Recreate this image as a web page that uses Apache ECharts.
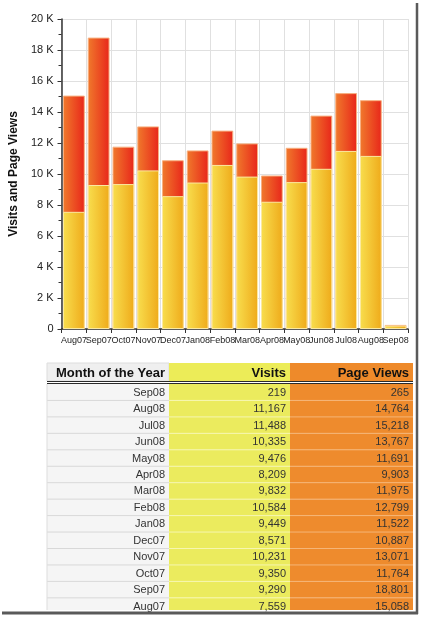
<!DOCTYPE html>
<html>
<head>
<meta charset="utf-8">
<title>Visits and Page Views</title>
<script src="https://cdn.jsdelivr.net/npm/echarts@6/dist/echarts.min.js"></script>
<style>
  html, body { margin: 0; padding: 0; background: #fff; }
  #chart { width: 421px; height: 618px; }
</style>
</head>
<body>
<div id="chart"></div>
<script>
// months, oldest first (chart order)
var months = ['Aug07', 'Sep07', 'Oct07', 'Nov07', 'Dec07', 'Jan08', 'Feb08',
  'Mar08', 'Apr08', 'May08', 'Jun08', 'Jul08', 'Aug08', 'Sep08'];
var visits = [7559, 9290, 9350, 10231, 8571, 9449, 10584, 9832, 8209, 9476, 10335, 11488, 11167, 219];
var pageViews = [15058, 18801, 11764, 13071, 10887, 11522, 12799, 11975, 9903, 11691, 13767, 15218, 14764, 265];
var tableHeaders = ['Month of the Year', 'Visits', 'Page Views'];

var chart = echarts.init(document.getElementById('chart'));

function fmt(n) {
  return n.toLocaleString('en-US');
}

// table below the chart, newest month first
function buildTable() {
  var els = [];
  var cols = [
    { x: 47, w: 122, head: '#efefef', body: '#f5f5f5', line: '#d8d8d8' },
    { x: 169, w: 121, head: '#ecec58', body: '#ebeb5e', line: '#f6f6b0' },
    { x: 290, w: 123, head: '#ee8a2a', body: '#ee8b2d', line: '#f5b577' }
  ];
  var headTop = 363, headH = 18, rowTop = 384, rowH = 16.45, bottom = 610;

  cols.forEach(function (c, j) {
    els.push({
      type: 'rect',
      shape: { x: c.x, y: headTop, width: c.w, height: headH },
      style: { fill: c.head, stroke: j === 0 ? '#dddddd' : null, lineWidth: 1 }
    });
    els.push({
      type: 'text',
      x: c.x + c.w - 4, y: headTop + headH / 2 + 1,
      style: {
        text: tableHeaders[j], align: 'right', verticalAlign: 'middle',
        font: 'bold 13px Arial, "Liberation Sans", sans-serif', fill: '#111'
      }
    });
  });

  for (var i = 0; i < months.length; i++) {
    var k = months.length - 1 - i;
    var y = rowTop + i * rowH;
    var h = Math.min(rowH, bottom - y);
    var vals = [months[k], fmt(visits[k]), fmt(pageViews[k])];
    cols.forEach(function (c, j) {
      els.push({
        type: 'rect',
        shape: { x: c.x, y: y, width: c.w, height: h },
        style: { fill: c.body }
      });
      if (i > 0) {
        els.push({
          type: 'line',
          shape: { x1: c.x, y1: y, x2: c.x + c.w, y2: y },
          style: { stroke: c.line, lineWidth: 1 }
        });
      }
      els.push({
        type: 'text',
        x: c.x + c.w - 4, y: y + rowH / 2 + 0.5,
        style: {
          text: vals[j], align: 'right', verticalAlign: 'middle',
          font: '11px Arial, "Liberation Sans", sans-serif', fill: '#333'
        }
      });
    });
  }
  els.push({
    type: 'line',
    shape: { x1: 47, y1: rowTop, x2: 47, y2: bottom },
    style: { stroke: '#dddddd', lineWidth: 1 }
  });

  // double rule under header
  [381.5, 383.5].forEach(function (y) {
    els.push({
      type: 'line',
      shape: { x1: 47, y1: y, x2: 413, y2: y },
      style: { stroke: '#2a2a2a', lineWidth: 1 }
    });
  });

  // picture frame shadow, right and bottom
  els.push({
    type: 'line',
    shape: { x1: 417, y1: 3, x2: 417, y2: 614 },
    style: { stroke: '#5a5a5a', lineWidth: 2.5 }
  });
  els.push({
    type: 'line',
    shape: { x1: 2, y1: 613, x2: 418, y2: 613 },
    style: { stroke: '#5a5a5a', lineWidth: 3 }
  });
  return els;
}

chart.setOption({
  animation: false,
  backgroundColor: '#fff',
  textStyle: { fontFamily: 'Arial, "Liberation Sans", sans-serif' },
  grid: { left: 50, top: 19, width: 358, height: 310 },
  xAxis: {
    type: 'category',
    data: months,
    axisLine: { lineStyle: { color: '#333', width: 1.5 } },
    axisTick: { show: true, length: 4, lineStyle: { color: '#333' } },
    axisLabel: { color: '#222', fontSize: 9, margin: 7, interval: 0 },
    splitLine: { show: true, lineStyle: { color: '#e0e0e0' } }
  },
  yAxis: {
    type: 'value',
    min: 0,
    max: 20000,
    interval: 2000,
    name: 'Visits and Page Views',
    nameLocation: 'middle',
    nameGap: 41,
    nameTextStyle: { fontWeight: 'bold', fontSize: 12, color: '#111' },
    axisLine: { show: true, lineStyle: { color: '#333', width: 1.5 } },
    axisTick: { show: true, length: 4, lineStyle: { color: '#333' } },
    minorTick: { show: true, splitNumber: 2, length: 3, lineStyle: { color: '#333' } },
    axisLabel: {
      color: '#222', fontSize: 11, margin: 8,
      formatter: function (v) { return v === 0 ? '0' : v / 1000 + ' K'; }
    },
    splitLine: { lineStyle: { color: '#e0e0e0' } }
  },
  series: [
    {
      name: 'Page Views',
      type: 'bar',
      data: pageViews,
      barCategoryGap: '12%',
      itemStyle: {
        color: {
          type: 'linear', x: 0, y: 0, x2: 1, y2: 0,
          colorStops: [
            { offset: 0, color: '#f07a2c' },
            { offset: 1, color: '#e8261a' }
          ]
        },
        borderColor: '#f7b080',
        borderWidth: 1
      }
    },
    {
      name: 'Visits',
      type: 'bar',
      data: visits,
      barGap: '-100%',
      barCategoryGap: '12%',
      itemStyle: {
        color: {
          type: 'linear', x: 0, y: 0, x2: 1, y2: 0,
          colorStops: [
            { offset: 0, color: '#f8de4e' },
            { offset: 1, color: '#efaa1a' }
          ]
        },
        borderColor: '#fbe9a0',
        borderWidth: 1
      }
    }
  ],
  graphic: buildTable()
});
</script>
</body>
</html>
